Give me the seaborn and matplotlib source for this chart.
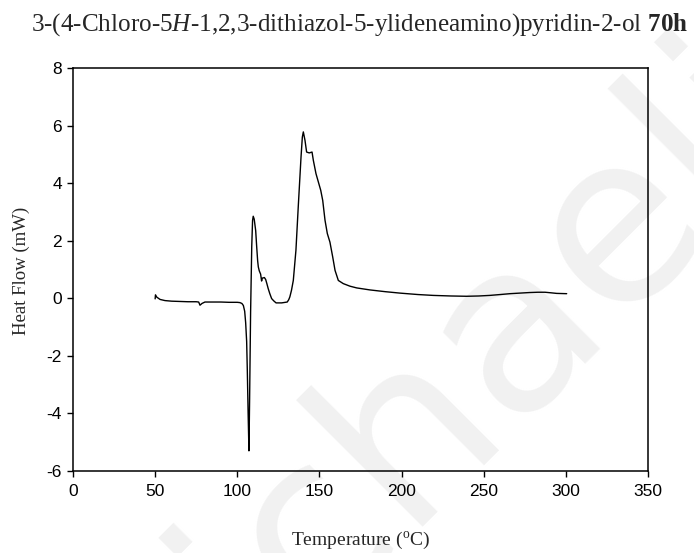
import matplotlib
matplotlib.use("Agg")
import matplotlib.pyplot as plt
import seaborn as sns
import pandas as pd

# DSC trace: temperature (°C) and heat flow (mW)
temperature = [50.0, 50.2, 51, 53, 56, 60, 65, 70, 75, 76.5, 77.3, 78.5, 80.3, 85, 90, 95,
               100, 101.6, 102.8, 103.7, 104.5, 105.1, 105.7, 106.1, 106.6, 107.1, 107.5,
               108.1, 108.8, 109.3, 109.7, 110.3, 111.2, 111.8, 112.4, 112.8, 113.4, 114.2,
               114.8, 115.2, 116.5, 117.3, 118.0, 118.8, 119.8, 120.9, 122.2, 123.6, 127.0,
               130.4, 131.3, 132.0, 133.0, 134.1, 135.7, 137.1, 138.8, 139.6, 140.2, 141.2,
               142.2, 143.8, 145.5, 146.3, 147.9, 150.8, 152.0, 153.4, 154.8, 156.4, 158.1,
               159.5, 161.5, 164.5, 168.6, 172.7, 180.8, 190, 199, 210, 219.3, 230, 239.6,
               247, 253.7, 260, 266, 272, 278, 283, 287.3, 291, 294.4, 300.5]
heat_flow = [-0.02, 0.12, 0.04, -0.04, -0.08, -0.10, -0.11, -0.12, -0.12, -0.13, -0.24, -0.18,
             -0.13, -0.13, -0.13, -0.14, -0.14, -0.15, -0.18, -0.25, -0.45, -0.85, -1.5, -2.5,
             -4.0, -5.3, -3.5, -0.5, 1.8, 2.7, 2.85, 2.75, 2.35, 1.8, 1.3, 1.09, 0.95, 0.84,
             0.60, 0.70, 0.72, 0.65, 0.51, 0.34, 0.16, -0.01, -0.09, -0.16, -0.16, -0.13,
             -0.05, 0.05, 0.28, 0.62, 1.67, 3.17, 4.91, 5.6, 5.78, 5.49, 5.08, 5.05, 5.08,
             4.79, 4.33, 3.75, 3.40, 2.71, 2.25, 1.95, 1.43, 0.97, 0.62, 0.51, 0.42, 0.36,
             0.29, 0.23, 0.18, 0.13, 0.10, 0.08, 0.07, 0.08, 0.10, 0.13, 0.16, 0.18, 0.20,
             0.21, 0.21, 0.19, 0.17, 0.16]

x_ticks = [0, 50, 100, 150, 200, 250, 300, 350]
y_ticks = [-6, -4, -2, 0, 2, 4, 6, 8]

df = pd.DataFrame({"Temperature": temperature, "HeatFlow": heat_flow})

sns.set_theme(style="ticks")
plt.rcParams["font.family"] = ["Liberation Sans", "DejaVu Sans"]
plt.rcParams["mathtext.fontset"] = "custom"
plt.rcParams["mathtext.rm"] = "Liberation Serif"
plt.rcParams["mathtext.it"] = "Liberation Serif:italic"
plt.rcParams["mathtext.bf"] = "Liberation Serif:bold"

W, H = 694, 553
fig = plt.figure(figsize=(W / 100, H / 100), dpi=100)
ax = fig.add_axes([73 / W, 1 - 471 / H, (648 - 73) / W, (471 - 68) / H])
ax.patch.set_alpha(0)

# faint diagonal watermark behind the plot, anchored at the start of its baseline
fig.text(101 / W, 1 - 827 / H, "michaelis", rotation=45, rotation_mode="anchor",
         fontsize=170, color="#f1f1f1", family="DejaVu Sans",
         ha="left", va="baseline", zorder=-5)

sns.lineplot(data=df, x="Temperature", y="HeatFlow", ax=ax, sort=False,
             estimator=None, color="black", linewidth=1.0)

ax.set_xlim(0, 350)
ax.set_ylim(-6, 8)
ax.set_xticks(x_ticks)
ax.set_yticks(y_ticks)
ax.set_xticklabels([str(v) for v in x_ticks])
ax.set_yticklabels([str(v) for v in y_ticks])
ax.tick_params(axis="both", direction="out", length=4.5, width=1.0, labelsize=12.5,
               color="black", labelcolor="black")
ax.tick_params(axis="x", pad=4.5)
ax.tick_params(axis="y", pad=3.5)
for side in ["left", "right", "top", "bottom"]:
    ax.spines[side].set_visible(True)
    ax.spines[side].set_color("black")
    ax.spines[side].set_linewidth(1.1)

ax.set_xlabel("")
ax.set_ylabel("")
fig.text(361 / W, 1 - 540 / H, r"Temperature ($^{\rm o}$C)", family="Liberation Serif",
         fontsize=14, ha="center", va="center")
fig.text(21 / W, 1 - 271 / H, "Heat Flow (mW)", family="Liberation Serif",
         fontsize=13.5, rotation=90, ha="center", va="center")

fig.text(360 / W, 1 - 25 / H,
         r"$\mathrm{3\text{-}(4\text{-}Chloro\text{-}5}\mathit{H}\mathrm{\text{-}1{,}2{,}3\text{-}dithiazol\text{-}5\text{-}ylideneamino)pyridin\text{-}2\text{-}ol}$ $\mathbf{70h}$",
         fontsize=18.1, ha="center", va="center")

fig.savefig("out.png", dpi=100)
